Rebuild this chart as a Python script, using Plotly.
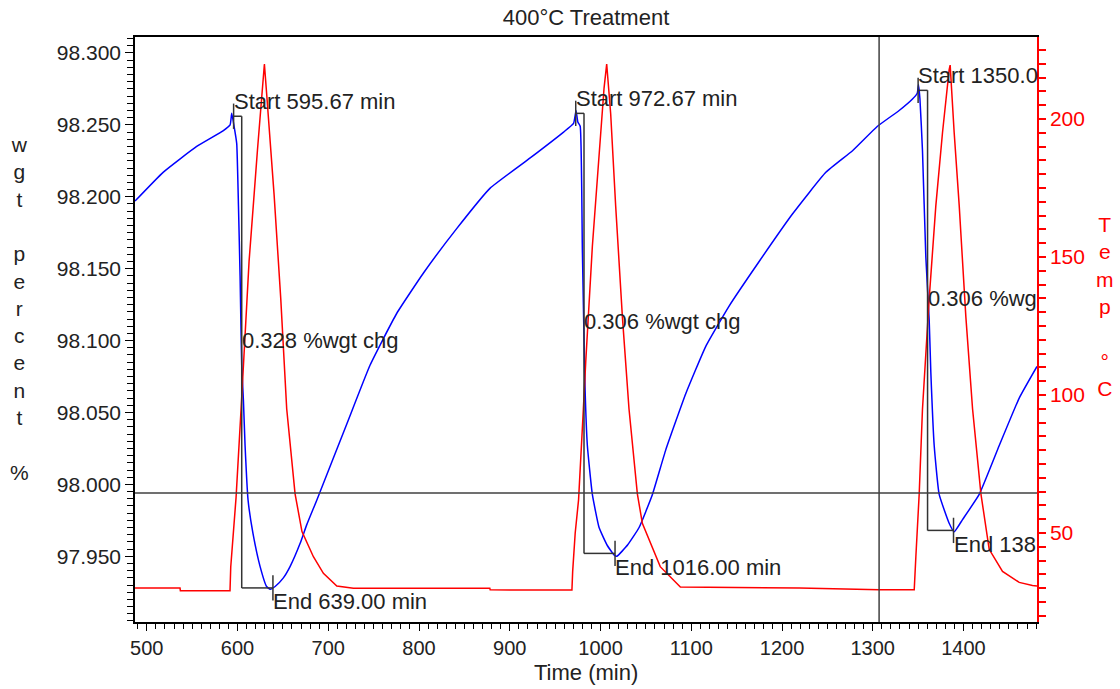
import plotly.graph_objects as go

# ---------------- data ----------------
wgt_time = [487.0, 518.0, 555.0, 584.4, 591.8, 593.6, 596.2, 599.1, 601.0, 602.8,
            604.6, 606.5, 608.3, 611.6, 617.0, 624.8, 632.0, 636.0, 641.4, 650.5,
            658.0, 669.0, 676.3, 687.3, 720.4, 746.1, 775.5, 804.9, 841.7, 878.4,
            922.5, 959.3, 970.3, 973.0, 975.0, 977.6, 980.0, 982.9, 985.5, 991.0,
            998.4, 1007.5, 1014.9, 1018.0, 1030.0, 1042.5, 1057.2, 1071.9, 1093.9,
            1116.0, 1141.7, 1174.8, 1211.5, 1248.3, 1277.7, 1305.2, 1329.1, 1343.8, 1349.0,
            1350.4, 1352.0, 1354.8, 1358.5, 1362.2, 1364.0, 1367.7, 1373.2, 1384.2, 1389.7,
            1398.9, 1417.3, 1439.4, 1461.4, 1481.0]
wgt_pct = [98.197, 98.217, 98.235, 98.246, 98.250, 98.258, 98.249, 98.237, 98.194, 98.145,
           98.083, 98.058, 98.027, 97.989, 97.966, 97.943, 97.929, 97.927, 97.929, 97.935,
           97.943, 97.959, 97.972, 97.989, 98.042, 98.083, 98.119, 98.147, 98.178, 98.206,
           98.227, 98.245, 98.251, 98.260, 98.252, 98.249, 98.163, 98.068, 98.027, 97.993,
           97.970, 97.9575, 97.951, 97.950, 97.958, 97.970, 97.993, 98.024, 98.063,
           98.096, 98.124, 98.155, 98.188, 98.217, 98.232, 98.249, 98.260, 98.268, 98.272,
           98.278, 98.268, 98.232, 98.158, 98.114, 98.078, 98.027, 97.993, 97.973, 97.967,
           97.9755, 97.993, 98.027, 98.060, 98.082]

temp_time = [487.0, 536.6, 537.0, 591.7, 592.5, 595.0, 598.4, 603.9, 612.7, 621.9,
             626.7, 629.6, 632.2, 640.3, 647.6, 654.2, 663.4, 671.0, 683.6, 694.6,
             709.4, 727.7, 878.0, 878.4, 968.5, 969.3, 972.1, 975.8, 981.1, 983.7,
             991.0, 998.4, 1003.9, 1006.8, 1011.2, 1016.7, 1024.1, 1031.4, 1040.6, 1046.1,
             1054.8, 1065.8, 1088.0, 1218.9, 1307.1, 1345.7, 1347.5, 1351.2, 1354.8, 1362.2,
             1369.5, 1376.9, 1384.2, 1385.3, 1389.7, 1395.3, 1402.6, 1410.0, 1419.2, 1428.3,
             1443.0, 1461.4, 1476.0, 1481.0]
temp_c = [30.1, 30.1, 29.1, 29.1, 37.7, 50.0, 63.0, 94.9, 148.4, 188.5,
          208.6, 219.9, 208.6, 172.5, 135.0, 94.9, 64.2, 50.5, 41.4, 35.4,
          30.8, 30.0, 30.0, 29.4, 29.3, 36.0, 50.0, 62.0, 94.9, 112.0,
          153.8, 188.5, 211.2, 219.9, 201.9, 168.5, 128.3, 94.9, 64.2, 53.5,
          46.4, 37.8, 30.4, 30.1, 29.4, 29.4, 41.4, 64.2, 94.9, 135.0,
          168.5, 195.2, 217.9, 219.5, 195.2, 168.5, 128.3, 94.9, 64.2, 44.1,
          36.1, 32.1, 31.0, 30.8]

step_start = [595.67, 972.67, 1350.0]
step_end = [639.00, 1016.00, 1389.0]
step_mid_x = [604.6, 981.8, 1360.4]
step_top = [98.256, 98.258, 98.274]
step_bottom = [97.928, 97.952, 97.968]
start_labels = ["Start 595.67 min", "Start 972.67 min", "Start 1350.0"]
end_labels = ["End 639.00 min", "End 1016.00 min", "End 138"]
chg_labels = ["0.328 %wgt chg", "0.306 %wgt chg", "0.306 %wg"]

cursor_x = 1307.0
cursor_y = 97.994

x_ticks = [500, 600, 700, 800, 900, 1000, 1100, 1200, 1300, 1400]
y_ticks = [97.950, 98.000, 98.050, 98.100, 98.150, 98.200, 98.250, 98.300]
y2_ticks = [50, 100, 150, 200]

title_text = "400°C Treatment"
x_title = "Time (min)"
y_title = "wgt percent %"
y2_title = "Temp °C"

# ---------------- figure ----------------
FONT = "Liberation Sans, Arial, sans-serif"
INK = "#222222"
LINE = "#333333"

fig = go.Figure()
fig.add_trace(go.Scatter(x=temp_time, y=temp_c, yaxis="y2", mode="lines",
                         line=dict(color="#FF0000", width=1.5), name="Temp", showlegend=False))
fig.add_trace(go.Scatter(x=wgt_time, y=wgt_pct, mode="lines",
                         line=dict(color="#0000FF", width=1.5, shape="spline", smoothing=0.4),
                         name="Weight", showlegend=False))

shapes = []
annotations = []
tick_h = 0.0088
for i in range(len(step_start)):
    s, e, m, t, b = step_start[i], step_end[i], step_mid_x[i], step_top[i], step_bottom[i]
    segs = [
        (s, t - tick_h, s, t + tick_h),   # start tick
        (s, t, m, t),                     # top
        (m, t, m, b),                     # vertical
        (m, b, e, b),                     # bottom
        (e, b - tick_h, e, b + tick_h),   # end tick
    ]
    for x0, y0, x1, y1 in segs:
        shapes.append(dict(type="line", xref="x", yref="y", x0=x0, y0=y0, x1=x1, y1=y1,
                           line=dict(color=LINE, width=1.5)))
    annotations.append(dict(x=s, y=t, xref="x", yref="y", text=start_labels[i], showarrow=False,
                            xanchor="left", yanchor="middle", xshift=-2, yshift=15,
                            font=dict(family=FONT, size=22, color=INK)))
    annotations.append(dict(x=e, y=b, xref="x", yref="y", text=end_labels[i], showarrow=False,
                            xanchor="left", yanchor="middle", xshift=-2, yshift=-14,
                            font=dict(family=FONT, size=22, color=INK)))
    annotations.append(dict(x=m, y=(t + b) / 2, xref="x", yref="y", text=chg_labels[i],
                            showarrow=False, xanchor="left", yanchor="middle", xshift=-2, yshift=12,
                            font=dict(family=FONT, size=22, color=INK)))

# cursor cross-hair
shapes.append(dict(type="line", xref="x", yref="paper", x0=cursor_x, x1=cursor_x, y0=0, y1=1,
                   line=dict(color="#404040", width=1.5)))
shapes.append(dict(type="line", xref="paper", yref="y", x0=0, x1=1, y0=cursor_y, y1=cursor_y,
                   line=dict(color="#404040", width=1.5)))

# axis titles (stacked letters)
annotations.append(dict(x=-0.1275, y=0.536, xref="paper", yref="paper",
                        text="<br>".join(ch if ch != " " else "\u00a0" for ch in y_title),
                        showarrow=False, xanchor="center", yanchor="middle",
                        font=dict(family=FONT, size=21, color=INK)))
annotations.append(dict(x=1.0754, y=0.540, xref="paper", yref="paper",
                        text="<br>".join(ch if ch != " " else "\u00a0" for ch in y2_title),
                        showarrow=False, xanchor="center", yanchor="middle",
                        font=dict(family=FONT, size=21, color="#FF0000")))
annotations.append(dict(x=0.5, y=-0.0855, xref="paper", yref="paper", text=x_title,
                        showarrow=False, xanchor="center", yanchor="middle",
                        font=dict(family=FONT, size=22, color=INK)))

fig.update_layout(
    width=1120, height=689, autosize=False,
    margin=dict(l=135, r=83, t=37, b=67),
    paper_bgcolor="white", plot_bgcolor="white",
    title=dict(text=title_text, x=0.5, xref="paper", y=1 - 17 / 689, yanchor="middle",
               xanchor="center", font=dict(family=FONT, size=22, color=INK)),
    shapes=shapes, annotations=annotations, showlegend=False,
    xaxis=dict(range=[487, 1481], tickvals=x_ticks, ticks="outside", ticklen=7, tickwidth=1,
               tickcolor="black", showline=True, linecolor="black", linewidth=1.5, mirror=True,
               showgrid=False, zeroline=False,
               tickfont=dict(family=FONT, size=20, color=INK),
               minor=dict(dtick=10, tick0=0, ticks="outside", ticklen=5, tickcolor="black",
                          showgrid=False)),
    yaxis=dict(range=[97.9043, 98.3111], tickvals=y_ticks, tickformat=".3f", ticks="outside",
               ticklen=8, tickwidth=1, tickcolor="black", showline=True, linecolor="black",
               linewidth=1.5, showgrid=False, zeroline=False,
               tickfont=dict(family=FONT, size=21, color=INK),
               minor=dict(dtick=0.005, tick0=0, ticks="outside", ticklen=6, tickcolor="black",
                          showgrid=False)),
    yaxis2=dict(range=[17.75, 229.7], overlaying="y", side="right", tickvals=y2_ticks,
                ticks="outside", ticklen=7, tickwidth=1.5, tickcolor="#FF0000", showline=True,
                linecolor="#FF0000", linewidth=1.5, showgrid=False, zeroline=False,
                tickfont=dict(family=FONT, size=21, color="#FF0000"),
                minor=dict(dtick=5, tick0=0, ticks="outside", ticklen=7, tickcolor="#FF0000",
                           showgrid=False)),
)

fig.write_html("out.html")
